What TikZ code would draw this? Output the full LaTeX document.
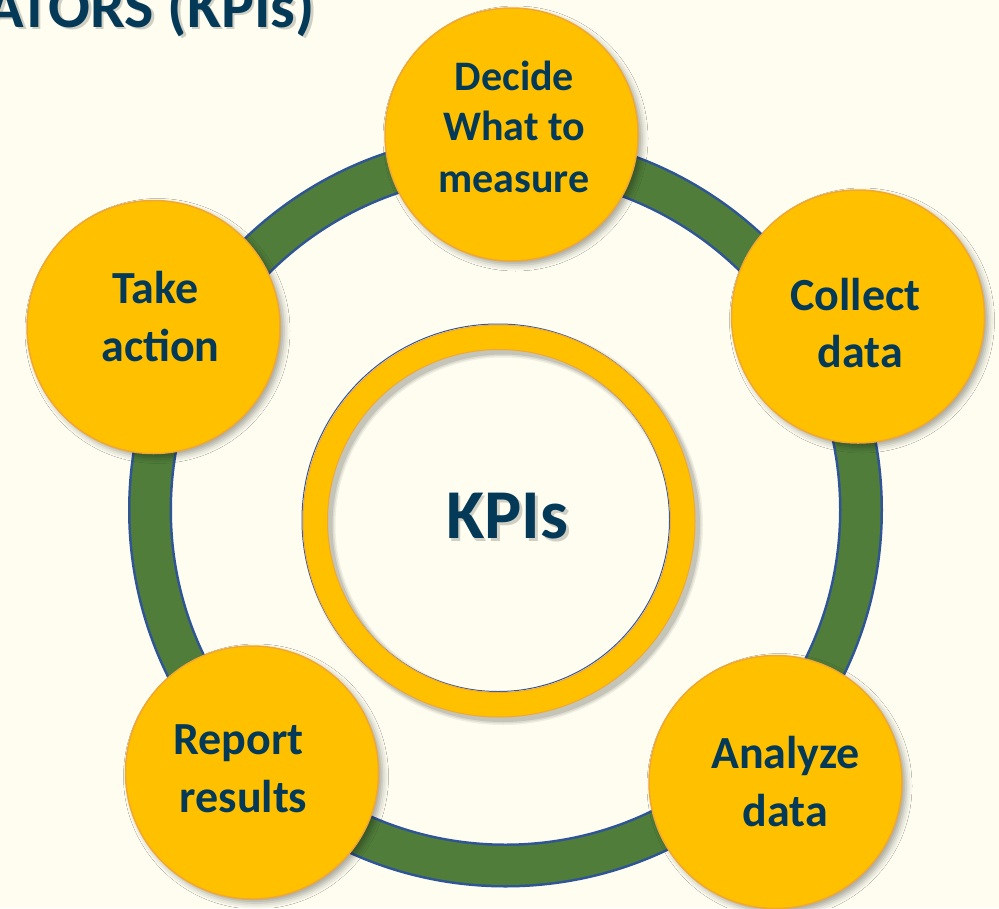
\documentclass[tikz,border=0pt]{standalone}
\usepackage{fontspec}
\setmainfont{Carlito}
\usetikzlibrary{shadows.blur}
\definecolor{bgc}{RGB}{254,253,240}
\definecolor{ringgreen}{RGB}{80,125,58}
\definecolor{ringblue}{RGB}{47,85,151}
\definecolor{gold}{RGB}{255,192,0}
\definecolor{goldedge}{RGB}{240,168,48}
\definecolor{navy}{RGB}{4,58,87}
\begin{document}
\begin{tikzpicture}[x=1pt,y=-1pt,
  stepcircle/.style={circle, minimum size=253pt, inner sep=0pt, fill=gold, draw=goldedge, line width=1.5pt,
    blur shadow={shadow xshift=4pt, shadow yshift=-4pt, shadow blur radius=6pt, shadow opacity=35}},
  lbl/.style={anchor=base, text=navy, font=\bfseries\fontsize{46}{57}\selectfont, inner sep=0pt},
  lblsmall/.style={lbl, font=\bfseries\fontsize{42}{51}\selectfont},
  shadowtext/.style={anchor=base, text=black, text opacity=0.18, inner sep=0pt},
]
\useasboundingbox (0,0) rectangle (999,908);
\fill[bgc] (0,0) rectangle (999,908);
\clip (0,0) rectangle (999,908);

% title
\node[shadowtext, anchor=base east, font=\bfseries\fontsize{62}{74}\selectfont] (titleshadow) at (317.5,29.5) {ATORS (KPIs)};
\node[anchor=base east, text=navy, inner sep=0pt, font=\bfseries\fontsize{62}{74}\selectfont] (title) at (315,27) {ATORS (KPIs)};

% green ring
\coordinate (ringc) at (505.5,510);
\draw[ringblue, line width=44pt] (ringc) circle (355.5);
\draw[ringgreen, line width=39pt] (ringc) circle (355.5);

% inner ring
\coordinate (kpic) at (499,521);
\foreach \d/\o in {4/0.06,2.5/0.08,1/0.1}
  \fill[black, opacity=\o, even odd rule] ([shift={(4,4)}]kpic) circle (196+\d) circle (171.5-\d);
\draw[ringblue, line width=1pt] ([shift={(-1,-1)}]kpic) circle (196);
\draw[ringblue, line width=1pt] ([shift={(-1,-1)}]kpic) circle (171.5);
\fill[gold, even odd rule, draw=goldedge, line width=1pt] (kpic) circle (196) circle (171.5);

% step circles
\node[stepcircle] (decide) at (511.5,134.5) {};
\node[stepcircle] (collect) at (858,316.5) {};
\node[stepcircle] (analyze) at (775.5,782) {};
\node[stepcircle] (report) at (252,772.5) {};
\node[stepcircle] (action) at (153.5,327) {};

% labels
\node[lblsmall] (decide1) at (514.5,90) {Decide};
\node[lblsmall] (decide2) at (514,140) {What to};
\node[lblsmall] (decide3) at (514,192) {measure};
\node[lbl] (action1) at (155.5,303) {Take};
\node[lbl] (action2) at (160.5,361) {action};
\node[lbl] (collect1) at (855.5,310) {Collect};
\node[lbl] (collect2) at (860.5,367) {data};
\node[lbl] (report1) at (238.5,754) {Report};
\node[lbl] (report2) at (243.5,812) {results};
\node[lbl] (analyze1) at (785.5,768) {Analyze};
\node[lbl] (analyze2) at (785.5,826) {data};

% center
\node[shadowtext, font=\bfseries\fontsize{70}{84}\selectfont] (kpishadow) at (510,541) {KPIs};
\node[anchor=base, text=navy, inner sep=0pt, font=\bfseries\fontsize{70}{84}\selectfont] (kpis) at (507.5,538) {KPIs};
\end{tikzpicture}
\end{document}
